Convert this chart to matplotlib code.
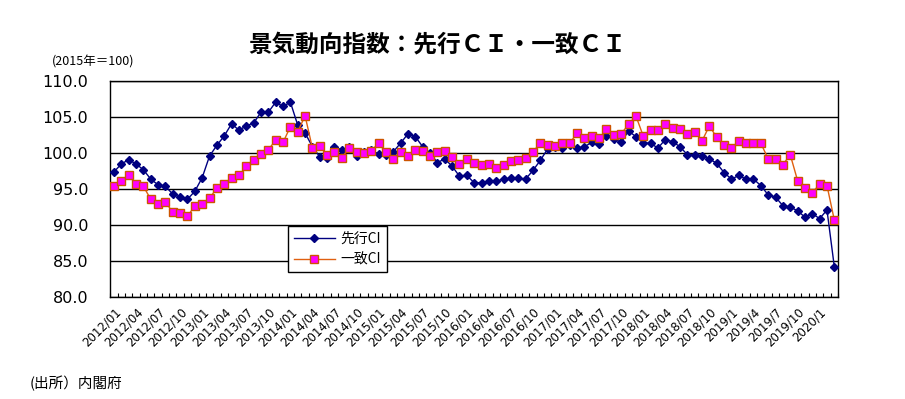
import numpy as np
import matplotlib
matplotlib.use("Agg")
from matplotlib import pyplot as plt

plt.rcParams['font.family'] = ['Noto Sans CJK JP', 'DejaVu Sans']

# monthly data 2012/01 - 2020/03 (2015=100)
leading = [97.4, 98.5, 99.1, 98.5, 97.7, 96.4, 95.6, 95.4, 94.3, 93.9, 93.6, 94.7,
           96.6, 99.6, 101.1, 102.4, 104.1, 103.2, 103.8, 104.2, 105.7, 105.7, 107.1, 106.5,
           107.1, 103.9, 102.8, 100.9, 99.5, 99.3, 100.8, 100.5, 100.8, 99.6, 100.2, 100.4,
           99.9, 99.7, 100.2, 101.4, 102.7, 102.3, 100.9, 100.0, 98.7, 99.2, 98.2, 96.8,
           96.9, 95.9, 95.9, 96.1, 96.1, 96.4, 96.5, 96.5, 96.4, 97.6, 99.0, 100.6,
           100.9, 100.7, 101.2, 100.7, 100.9, 101.5, 101.3, 102.4, 102.0, 101.5, 103.1, 102.3,
           101.4, 101.4, 100.7, 101.9, 101.6, 100.9, 99.8, 99.8, 99.6, 99.2, 98.6, 97.3,
           96.4, 96.9, 96.4, 96.4, 95.5, 94.2, 93.9, 92.7, 92.5, 92.0, 91.1, 91.6,
           90.9, 92.1, 84.2]
coincident = [95.4, 96.1, 96.9, 95.7, 95.4, 93.6, 93.0, 93.2, 91.8, 91.7, 91.2, 92.7,
              92.9, 93.7, 95.2, 95.7, 96.6, 96.9, 98.2, 99.0, 99.9, 100.5, 101.8, 101.5,
              103.7, 103.0, 105.2, 100.7, 101.0, 99.8, 100.2, 99.4, 100.7, 100.2, 100.0, 100.3,
              101.4, 100.1, 99.2, 100.1, 99.6, 100.5, 100.3, 99.6, 100.2, 100.3, 99.5, 98.5,
              99.2, 98.7, 98.4, 98.5, 98.0, 98.4, 98.9, 99.1, 99.4, 100.2, 101.4, 101.1,
              101.0, 101.4, 101.4, 102.8, 102.1, 102.4, 102.1, 103.3, 102.6, 102.7, 104.0, 105.2,
              102.4, 103.2, 103.2, 104.0, 103.5, 103.3, 102.7, 103.0, 101.7, 103.8, 102.2, 101.1,
              100.7, 101.7, 101.4, 101.4, 101.4, 99.2, 99.2, 98.4, 99.8, 96.2, 95.2, 94.5,
              95.7, 95.5, 90.7]

tick_labels = ['2012/01', '2012/04', '2012/07', '2012/10',
               '2013/01', '2013/04', '2013/07', '2013/10',
               '2014/01', '2014/04', '2014/07', '2014/10',
               '2015/01', '2015/04', '2015/07', '2015/10',
               '2016/01', '2016/04', '2016/07', '2016/10',
               '2017/01', '2017/04', '2017/07', '2017/10',
               '2018/01', '2018/04', '2018/07', '2018/10',
               '2019/1', '2019/4', '2019/7', '2019/10', '2020/1']

x = np.arange(len(leading))

fig = plt.figure(figsize=(9.05, 3.99), dpi=100)
ax = fig.add_axes([110.3 / 905, 1 - 297 / 399, (838 - 110.3) / 905, (297 - 81.3) / 399])

ax.plot(x, leading, color='#000080', lw=1, marker='D', ms=4.5,
        mfc='#000080', mec='#000080', label='先行CI', zorder=3)
ax.plot(x, coincident, color='#E06010', lw=1, marker='s', ms=6,
        mfc='#FF00FF', mec='#CC5500', mew=1, label='一致CI', zorder=4)

ax.set_xlim(-0.5, len(x) - 0.5)
ax.set_ylim(80, 110)
yt = np.arange(80, 110.1, 5)
ax.set_yticks(yt, [f'{v:.1f}' for v in yt])
for t in ax.get_yticklabels():
    t.set_fontsize(11.5)
    t.set_family(['DejaVu Sans'])
ax.yaxis.set_tick_params(length=0, pad=16)
ax.yaxis.grid(True, color='black', lw=1)
ax.set_axisbelow(True)

ax.set_xticks(np.arange(0, len(x), 3))
ax.set_xticklabels(tick_labels, rotation=45, ha='right', va='top',
                   rotation_mode='anchor', fontsize=8.5, family=['DejaVu Sans'])
ax.set_xticks(np.arange(-0.5, len(x), 1), minor=True)
ax.tick_params(axis='x', which='major', length=0, pad=6)
ax.tick_params(axis='x', which='minor', direction='in', length=3, width=0.8)
for s in ax.spines.values():
    s.set_color('black')
    s.set_linewidth(1)

leg = ax.legend(loc='upper left', bbox_to_anchor=((288 - 110.3) / 727.7, 1 - (226 - 81.3) / 215.7),
                frameon=True, fancybox=False, edgecolor='black', framealpha=1,
                fontsize=10, handlelength=3, borderpad=0.4, labelspacing=0.5,
                handletextpad=0.4, borderaxespad=0)
leg.get_frame().set_linewidth(1)
leg.set_zorder(5)

fig.text(437 / 905, 1 - 45 / 399, '景気動向指数：先行ＣＩ・一致ＣＩ', ha='center', va='center',
         fontsize=17, fontweight='bold')
fig.text(52 / 905, 1 - 62 / 399, '(2015年＝100)', ha='left', va='center', fontsize=9)
fig.text(30 / 905, 1 - 383 / 399, '(出所）内閣府', ha='left', va='center', fontsize=10.5)

fig.savefig('out.png', dpi=100)
